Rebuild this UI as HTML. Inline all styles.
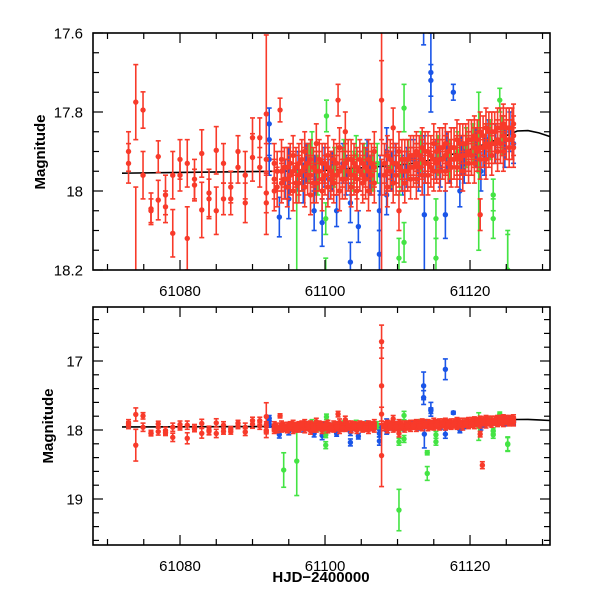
<!DOCTYPE html>
<html><head><meta charset="utf-8"><style>
html,body{margin:0;padding:0;background:#fff;overflow:hidden;width:600px;height:600px;}
svg{display:block;font-family:"Liberation Sans",sans-serif;}
</style></head><body>
<svg id="chart" width="600" height="600" viewBox="0 0 600 600" xmlns="http://www.w3.org/2000/svg">
<defs>
<clipPath id="clipTop"><rect x="93" y="33" width="457" height="237"/></clipPath>
<clipPath id="clipBot"><rect x="93" y="307" width="457" height="238"/></clipPath>
</defs>
<g id="top"></g>
<g id="bot"></g>
<text x="0" y="0" transform="translate(45,152) rotate(-90)" text-anchor="middle" font-size="15" font-weight="bold">Magnitude</text>
<text x="0" y="0" transform="translate(53,426) rotate(-90)" text-anchor="middle" font-size="15" font-weight="bold">Magnitude</text>
<text x="321" y="582" text-anchor="middle" font-size="15" font-weight="bold">HJD−2400000</text>
</svg>
<script>
const xTicksMajor = [61080, 61100, 61120];
const yTicksTop = [17.6, 17.8, 18, 18.2];
const yTicksBot = [17, 18, 19];
const modelCurve = [[61072,17.955],[61080,17.953],[61090,17.951],[61100,17.948],[61106,17.94],[61110,17.935],[61113,17.928],[61116,17.915],[61120,17.895],[61123,17.875],[61125,17.86],[61126.5,17.848],[61128,17.847],[61129.5,17.853],[61131,17.862]];
const redPts = [
[61072.9,17.90,0.05],[61072.9,17.93,0.05],[61073.9,17.775,0.095],[61073.9,18.22,0.23],[61074.9,17.795,0.046],[61074.9,17.96,0.06],
[61076.0,18.045,0.04],[61076.0,18.05,0.03],[61077.0,17.913,0.04],[61077.0,18.023,0.05],[61078.0,18.01,0.05],[61078.0,18.04,0.04],
[61079.0,17.96,0.06],[61079.0,18.107,0.06],[61080.0,17.92,0.05],[61080.0,17.96,0.04],[61081.0,17.93,0.06],[61081.0,18.12,0.08],
[61082.0,17.97,0.05],[61082.0,17.985,0.04],[61083.0,17.905,0.06],[61083.0,18.048,0.07],[61084.0,18.005,0.06],[61084.0,18.02,0.05],
[61085.0,17.897,0.06],[61085.0,18.05,0.06],[61086.0,17.93,0.05],[61086.0,18.02,0.04],[61087.0,17.99,0.04],[61087.0,18.02,0.04],
[61088.0,17.90,0.04],[61088.0,17.94,0.04],[61089.0,17.96,0.06],[61089.0,18.03,0.05],[61090.0,17.865,0.05],[61090.0,17.915,0.06],
[61091.0,17.865,0.05],[61091.0,17.94,0.05],[61091.9,17.805,0.2],[61091.9,17.92,0.04],[61091.9,18.005,0.05],[61091.9,18.03,0.08],
[61093.8,17.795,0.03],
[61093.0,17.93,0.05],[61093.0,17.97,0.05],[61093.0,18.00,0.05],[61094.0,17.92,0.05],[61094.0,17.95,0.05],[61094.0,17.98,0.05],
[61094.8,17.94,0.05],[61094.8,17.97,0.05],[61094.8,17.99,0.05],[61095.6,17.91,0.05],[61095.6,17.95,0.05],[61095.6,18.00,0.05],
[61096.4,17.93,0.05],[61096.4,17.96,0.05],[61096.4,17.98,0.05],[61097.2,17.90,0.05],[61097.2,17.94,0.05],[61097.2,17.99,0.05],
[61098.0,17.92,0.05],[61098.0,17.96,0.05],[61098.0,18.01,0.05],[61098.8,17.88,0.05],[61098.8,17.95,0.05],[61098.8,17.98,0.05],
[61099.6,17.93,0.05],[61099.6,17.97,0.05],[61099.6,18.00,0.05],[61100.4,17.91,0.05],[61100.4,17.94,0.05],[61100.4,17.99,0.05],
[61101.2,17.92,0.05],[61101.2,17.96,0.05],[61101.2,17.98,0.05],[61101.8,17.77,0.04],[61102.0,17.89,0.05],[61102.0,17.95,0.05],[61102.0,18.00,0.05],
[61102.8,17.85,0.05],[61102.8,17.93,0.05],[61102.8,17.97,0.05],[61103.6,17.92,0.05],[61103.6,17.96,0.05],[61103.6,17.99,0.05],
[61104.4,17.94,0.05],[61104.4,17.97,0.05],[61104.4,18.00,0.05],[61105.2,17.93,0.05],[61105.2,17.96,0.05],[61105.2,17.98,0.05],
[61106.0,17.92,0.05],[61106.0,17.95,0.05],[61106.0,18.00,0.05],[61106.8,17.90,0.05],[61106.8,17.94,0.05],[61106.8,17.98,0.05],
[61107.8,16.72,0.24],[61107.8,17.36,0.55],[61107.8,18.37,0.45],[61107.8,17.77,0.1],
[61108.6,17.91,0.05],[61108.6,17.95,0.05],[61108.6,17.99,0.05],[61109.4,17.84,0.05],[61109.4,17.93,0.05],[61109.4,17.98,0.05],
[61110.2,17.90,0.05],[61110.2,17.94,0.05],[61110.2,18.05,0.05],[61111.0,17.92,0.05],[61111.0,17.95,0.05],[61111.0,17.98,0.05],
[61111.8,17.91,0.05],[61111.8,17.94,0.05],[61111.8,17.97,0.05],[61112.6,17.90,0.05],[61112.6,17.93,0.05],[61112.6,17.97,0.05],
[61113.4,17.89,0.05],[61113.4,17.92,0.05],[61113.4,17.96,0.05],[61114.2,17.90,0.05],[61114.2,17.93,0.05],[61114.2,17.96,0.05],
[61115.0,17.88,0.05],[61115.0,17.92,0.05],[61115.0,17.95,0.05],[61115.8,17.89,0.05],[61115.8,17.92,0.05],[61115.8,17.95,0.05],
[61116.6,17.88,0.05],[61116.6,17.91,0.05],[61116.6,17.95,0.05],[61117.4,17.89,0.05],[61117.4,17.92,0.05],[61117.4,17.94,0.05],
[61118.2,17.87,0.05],[61118.2,17.91,0.05],[61118.2,17.94,0.05],[61119.0,17.88,0.05],[61119.0,17.91,0.05],[61119.0,17.95,0.05],
[61119.8,17.87,0.05],[61119.8,17.90,0.05],[61119.8,17.93,0.05],[61120.6,17.86,0.05],[61120.6,17.89,0.05],[61120.6,17.93,0.05],
[61121.4,17.85,0.05],[61121.4,17.89,0.05],[61121.4,17.92,0.05],[61121.4,18.06,0.04],[61121.7,18.51,0.05],
[61122.2,17.84,0.05],[61122.2,17.88,0.05],[61122.2,17.92,0.05],[61123.0,17.85,0.05],[61123.0,17.88,0.05],[61123.0,17.91,0.05],
[61123.8,17.84,0.05],[61123.8,17.87,0.05],[61123.8,17.90,0.05],[61124.6,17.83,0.05],[61124.6,17.86,0.05],[61124.6,17.90,0.05],
[61125.4,17.84,0.05],[61125.4,17.87,0.05],[61125.4,17.89,0.05],[61126.0,17.83,0.05],[61126.0,17.86,0.05],[61126.0,17.89,0.05],
[61093.4,17.95,0.05],[61093.4,17.99,0.05],[61094.4,17.94,0.05],[61094.4,17.97,0.05],[61095.2,17.96,0.05],[61095.2,17.93,0.05],
[61096.0,17.94,0.05],[61096.0,17.98,0.05],[61096.8,17.95,0.05],[61096.8,17.92,0.05],[61097.6,17.96,0.05],[61097.6,17.93,0.05],
[61098.4,17.94,0.05],[61098.4,17.98,0.05],[61099.2,17.95,0.05],[61099.2,17.92,0.05],[61100.0,17.96,0.05],[61100.0,17.93,0.05],
[61100.8,17.95,0.05],[61100.8,17.97,0.05],[61101.6,17.93,0.05],[61101.6,17.96,0.05],[61102.4,17.94,0.05],[61102.4,17.97,0.05],
[61103.2,17.95,0.05],[61103.2,17.92,0.05],[61104.0,17.96,0.05],[61104.0,17.93,0.05],[61104.8,17.95,0.05],[61104.8,17.92,0.05],
[61105.6,17.94,0.05],[61105.6,17.97,0.05],[61106.4,17.93,0.05],[61106.4,17.96,0.05],[61108.2,17.93,0.05],[61108.2,17.96,0.05],
[61109.0,17.92,0.05],[61109.0,17.95,0.05],[61109.8,17.93,0.05],[61109.8,17.96,0.05],[61110.6,17.92,0.05],[61110.6,17.95,0.05],
[61111.4,17.92,0.05],[61111.4,17.95,0.05],[61112.2,17.91,0.05],[61112.2,17.94,0.05],[61113.0,17.91,0.05],[61113.0,17.94,0.05],
[61113.8,17.90,0.05],[61113.8,17.93,0.05],[61114.6,17.91,0.05],[61114.6,17.94,0.05],[61115.4,17.90,0.05],[61115.4,17.93,0.05],
[61116.2,17.89,0.05],[61116.2,17.92,0.05],[61117.0,17.90,0.05],[61117.0,17.93,0.05],[61117.8,17.89,0.05],[61117.8,17.92,0.05],
[61118.6,17.88,0.05],[61118.6,17.92,0.05],[61119.4,17.88,0.05],[61119.4,17.91,0.05],[61120.2,17.87,0.05],[61120.2,17.91,0.05],
[61121.0,17.87,0.05],[61121.0,17.90,0.05],[61121.8,17.86,0.05],[61121.8,17.89,0.05],[61122.6,17.85,0.05],[61122.6,17.89,0.05],
[61123.4,17.85,0.05],[61123.4,17.88,0.05],[61124.2,17.84,0.05],[61124.2,17.88,0.05],[61125.0,17.84,0.05],[61125.0,17.87,0.05],
[61125.8,17.84,0.05],[61125.8,17.87,0.05]
];
const bluePts = [
[61092.3,17.83,0.04],[61092.3,17.87,0.04],[61092.3,17.92,0.04],[61093.7,18.066,0.05],[61095.0,17.94,0.05],[61095.0,18.02,0.05],
[61096.3,17.95,0.05],[61097.4,17.93,0.05],[61098.5,18.05,0.05],[61098.6,17.96,0.05],[61099.6,18.08,0.06],[61099.9,17.94,0.05],
[61101.0,17.95,0.05],[61101.6,18.05,0.04],[61102.5,17.93,0.05],[61103.5,18.03,0.05],[61103.5,18.18,0.05],[61104.6,18.09,0.04],
[61104.8,17.95,0.05],[61105.8,17.92,0.05],[61107.5,18.05,0.05],[61107.5,18.16,0.06],[61107.6,17.96,0.05],[61108.5,18.01,0.05],
[61108.5,17.90,0.06],[61109.7,17.93,0.05],[61111.3,17.94,0.05],[61112.2,17.92,0.05],[61113.6,17.36,0.2],[61113.6,17.53,0.1],
[61113.7,18.06,0.2],[61113.8,17.93,0.05],[61114.6,17.70,0.1],[61114.6,17.72,0.04],[61115.3,17.92,0.05],[61116.6,17.12,0.15],
[61116.6,18.06,0.06],[61116.8,17.90,0.05],[61117.7,17.75,0.02],[61118.6,18.00,0.04],[61118.8,17.91,0.05],[61119.8,17.90,0.05],
[61120.8,17.89,0.05],[61121.5,17.95,0.05],[61122.5,17.87,0.05],[61123.5,17.88,0.05],[61124.5,17.86,0.05],[61125.5,17.85,0.05],[61126.0,17.88,0.05],
[61094.5,17.97,0.05],[61097.0,17.98,0.05],[61100.5,17.97,0.05],[61102.9,17.96,0.05],[61106.2,17.96,0.05],[61109.2,17.95,0.05],
[61110.7,17.96,0.05],[61112.9,17.95,0.05],[61115.9,17.94,0.05],[61117.2,17.93,0.05],[61119.2,17.93,0.05],[61122.0,17.91,0.05],[61124.8,17.89,0.05]
];
const greenPts = [
[61094.3,18.58,0.25],[61096.1,18.45,0.5],[61096.8,17.95,0.05],[61097.8,17.93,0.05],[61099.0,17.96,0.05],[61100.1,18.22,0.05],
[61100.1,18.07,0.04],[61100.2,17.81,0.04],[61101.3,17.94,0.05],[61102.6,17.92,0.05],[61103.9,17.95,0.05],[61105.4,17.93,0.05],
[61106.6,17.95,0.05],[61109.0,17.94,0.05],[61110.2,19.16,0.3],[61110.2,18.17,0.05],[61110.3,17.96,0.05],[61110.9,17.79,0.06],
[61110.9,18.13,0.05],[61111.5,17.92,0.05],[61112.6,17.93,0.05],[61114.1,18.63,0.1],[61114.1,18.33,0.03],[61115.3,18.07,0.05],
[61115.3,18.17,0.05],[61115.6,17.91,0.05],[61117.2,17.92,0.05],[61118.3,17.90,0.05],[61119.5,17.89,0.05],[61121.2,17.95,0.2],
[61122.2,17.88,0.05],[61123.2,18.07,0.05],[61123.2,18.01,0.04],[61124.1,17.77,0.03],[61124.4,17.86,0.05],[61125.2,18.21,0.1],[61125.2,18.2,0.1],
[61098.2,17.90,0.05],[61104.3,17.91,0.05],[61107.2,17.93,0.05],[61113.2,17.90,0.05],[61120.4,17.88,0.05],[61122.8,17.87,0.05]
];
const NS='http://www.w3.org/2000/svg';
const X0=93,X1=550,D0=61068.0,D1=61131.03;
function xs(d){return X0+(d-D0)/(D1-D0)*(X1-X0);}
function ysTop(m){return 33+(m-17.6)/0.6*237;}
function ysBot(m){return 430+(m-18)*69;}
function mk(tag,attrs,parent){const e=document.createElementNS(NS,tag);for(const k in attrs)e.setAttribute(k,attrs[k]);parent.appendChild(e);return e;}
function panel(g,ys,top,bottom,yTicks,minorStep,majorList,clipId,fmt){
  const data=mk('g',{'clip-path':'url(#'+clipId+')'},g);
  
  
  let dstr='';
  modelCurve.forEach((p,i)=>{dstr+=(i?'L':'M')+xs(p[0]).toFixed(1)+','+ys(p[1]).toFixed(1);});
  const ml=mk('path',{d:dstr,fill:'none',stroke:'#000','stroke-width':1.6},data);
  
  
  [[bluePts,'#1a55e8','blue'],[greenPts,'#44e444','green'],[redPts,'#f83a2a','red']].forEach(([pts,col,nm])=>{
    pts.forEach(p=>{
      const x=xs(p[0]),y=ys(p[1]),y1=ys(p[1]-p[2]),y2=ys(p[1]+p[2]);
      const gg=mk('g',{stroke:col,fill:col,'stroke-width':1.6},data);
      
      
      mk('line',{x1:x,x2:x,y1:y1,y2:y2},gg);
      mk('line',{x1:x-2.5,x2:x+2.5,y1:y1,y2:y1},gg);
      mk('line',{x1:x-2.5,x2:x+2.5,y1:y2,y2:y2},gg);
      mk('circle',{cx:x,cy:y,r:2.7,stroke:'none'},gg);
    });
  });
  const fr=mk('rect',{x:X0,y:top,width:X1-X0,height:bottom-top,fill:'none',stroke:'#000','stroke-width':1.6},g);
  
  
  const ax=mk('g',{stroke:'#000','stroke-width':1.2},g);
  
  
  for(let d=61070;d<=61130;d+=5){
    const x=xs(d),L=(d%20===0)?10:6;
    mk('line',{x1:x,x2:x,y1:bottom,y2:bottom-L},ax);
    mk('line',{x1:x,x2:x,y1:top,y2:top+L},ax);
  }
  const mlo=Math.min(ys.inv(top),ys.inv(bottom)),mhi=Math.max(ys.inv(top),ys.inv(bottom));
  for(let m=Math.ceil(mlo/minorStep-1e-6)*minorStep;m<=mhi+1e-9;m+=minorStep){
    const y=ys(m);const major=majorList.some(v=>Math.abs(v-m)<1e-6);const L=major?10:6;
    mk('line',{x1:X0,x2:X0+L,y1:y,y2:y},ax);
    mk('line',{x1:X1,x2:X1-L,y1:y,y2:y},ax);
  }
  yTicks.forEach(v=>{
    const t=mk('text',{x:83,y:ys(v)+5.5,'text-anchor':'end','font-size':15},g);
    t.textContent=fmt(v);
    
    
  });
  xTicksMajor.forEach(v=>{
    const t=mk('text',{x:xs(v),y:bottom+26,'text-anchor':'middle','font-size':15},g);
    t.textContent=String(v);
    
    
  });
}
ysTop.inv=function(y){return 17.6+(y-33)/237*0.6;};
ysBot.inv=function(y){return 18+(y-430)/69;};
panel(document.getElementById('top'),ysTop,33,270,yTicksTop,0.05,yTicksTop,'clipTop',v=>v===18?'18':v.toFixed(1));
panel(document.getElementById('bot'),ysBot,307,545,yTicksBot,0.2,yTicksBot,'clipBot',v=>String(v));
</script>
</body></html>
